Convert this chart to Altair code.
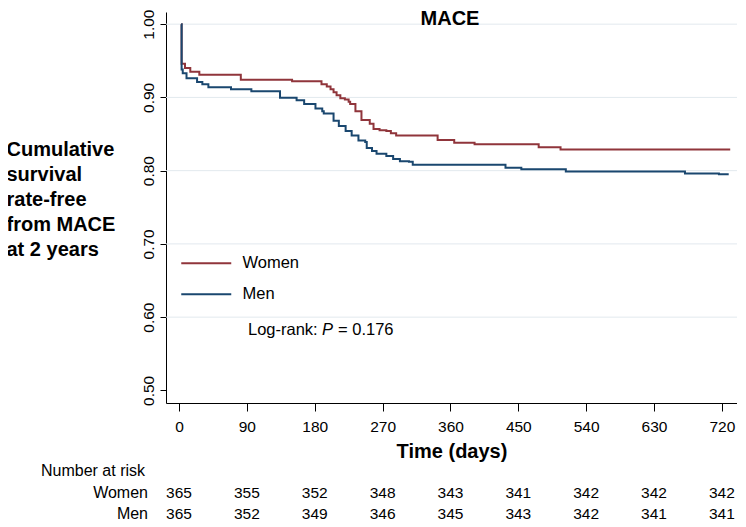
import altair as alt
import pandas as pd

# ---- data ----
groups = ["Women", "Men"]
colors = ["#90353b", "#1a476f"]

women_days = [3, 3.5, 8, 15, 27, 82, 150, 189, 196, 201, 205, 209, 214, 220, 225, 227,
              234, 242, 253, 258, 266, 275, 281, 288, 343, 365, 392, 477, 506, 731]
women_surv = [1.0, 0.946, 0.940, 0.935, 0.931, 0.924, 0.922, 0.918, 0.915, 0.911, 0.907,
              0.903, 0.899, 0.897, 0.894, 0.891, 0.881, 0.869, 0.864, 0.857, 0.855, 0.854,
              0.851, 0.848, 0.842, 0.838, 0.836, 0.832, 0.829, 0.829]

men_days = [3, 3.5, 5, 10, 24, 31, 39, 69, 96, 134, 156, 166, 181, 190, 192, 205, 212, 221,
            229, 238, 247, 249, 256, 262, 275, 284, 293, 305, 310, 433, 454, 513, 671, 716, 729]
men_surv = [1.0, 0.938, 0.933, 0.926, 0.921, 0.918, 0.914, 0.911, 0.9085, 0.8995, 0.896,
            0.891, 0.885, 0.881, 0.878, 0.868, 0.861, 0.854, 0.848, 0.841, 0.839, 0.831,
            0.827, 0.823, 0.820, 0.816, 0.813, 0.812, 0.808, 0.804, 0.802, 0.799, 0.796,
            0.795, 0.795]

risk_days = [0, 90, 180, 270, 360, 450, 540, 630, 720]
women_risk = [365, 355, 352, 348, 343, 341, 342, 342, 342]
men_risk = [365, 352, 349, 346, 345, 343, 342, 341, 341]

y_ticks = [0.5, 0.6, 0.7, 0.8, 0.9, 1.0]
grid_values = [0.6, 0.7, 0.8, 0.9, 1.0]

y_title = ["Cumulative", "survival", "rate-free", "from MACE", "at 2 years"]
chart_title = "MACE"
x_title = "Time (days)"
logrank_parts = ["Log-rank:", "P", "= 0.176"]

# ---- tables ----
curve_df = pd.DataFrame({
    "day": women_days + men_days,
    "surv": women_surv + men_surv,
    "group": ["Women"] * len(women_days) + ["Men"] * len(men_days),
})
risk_w = pd.DataFrame({"day": risk_days, "n": women_risk})
risk_m = pd.DataFrame({"day": risk_days, "n": men_risk})
grid_df = pd.DataFrame({"v": grid_values})

FONT = "Liberation Sans"
W, H = 571, 391
PB = 118

xscale = alt.Scale(domain=[-17.2, 740], nice=False, zero=False)
yscale = alt.Scale(domain=[0.4828, 1.0166], nice=False, zero=False)

x_axis = alt.Axis(values=risk_days, title=x_title, grid=False,
                  domainColor="black", domainWidth=1, tickColor="black",
                  tickSize=8, tickWidth=1, labelFont=FONT, labelFontSize=15.5,
                  labelColor="black", labelPadding=8, labelFlush=False,
                  labelOverlap=False,
                  titleFont=FONT, titleFontSize=20, titleFontWeight="bold",
                  titleColor="black", titleY=48, titleBaseline="middle")
y_axis = alt.Axis(values=y_ticks, format=".2f", title=y_title, grid=False,
                  domainColor="black", domainWidth=1, tickColor="black",
                  tickSize=6, tickWidth=1, labelFont=FONT, labelFontSize=15.5,
                  labelColor="black", labelAngle=270, labelAlign="center",
                  labelBaseline="bottom", labelPadding=4, labelOverlap=False,
                  titleFont=FONT, titleFontSize=20, titleFontWeight="bold",
                  titleColor="black", titleAngle=0, titleAlign="left",
                  titleBaseline="top", titleX=-160, titleY=127,
                  titleLineHeight=25)

grid = alt.Chart(grid_df).mark_rule(color="#e2e9ee", strokeWidth=1).encode(
    y=alt.Y("v:Q", scale=yscale, axis=y_axis)
)

curves = alt.Chart(curve_df).mark_line(interpolate="step-after", strokeWidth=2).encode(
    x=alt.X("day:Q", scale=xscale, axis=x_axis),
    y=alt.Y("surv:Q", scale=yscale, axis=y_axis),
    color=alt.Color("group:N", scale=alt.Scale(domain=groups, range=colors),
                    legend=alt.Legend(orient="none", legendX=12, legendY=243, title=None,
                                      symbolType="M-5,0L5,0", symbolSize=100,
                                      symbolStrokeWidth=2, symbolOffset=20,
                                      labelOffset=28, labelFont=FONT, labelFontSize=16.5,
                                      labelColor="black", rowPadding=14, padding=0)),
)

title_layer = alt.Chart(pd.DataFrame({"t": [chart_title]})).mark_text(
    font=FONT, fontSize=20, fontWeight="bold", align="center", baseline="middle",
    color="black"
).encode(x=alt.value(284), y=alt.value(7), text="t:N")

lr1 = alt.Chart(pd.DataFrame({"t": [logrank_parts[0]]})).mark_text(
    font=FONT, fontSize=16.5, align="left", baseline="middle", color="black"
).encode(x=alt.value(82), y=alt.value(318), text="t:N")
lr2 = alt.Chart(pd.DataFrame({"t": [logrank_parts[1]]})).mark_text(
    font=FONT, fontSize=16.5, fontStyle="italic", align="left", baseline="middle",
    color="black"
).encode(x=alt.value(156), y=alt.value(318), text="t:N")
lr3 = alt.Chart(pd.DataFrame({"t": [logrank_parts[2]]})).mark_text(
    font=FONT, fontSize=16.5, align="left", baseline="middle", color="black"
).encode(x=alt.value(172), y=alt.value(318), text="t:N")

row_w = alt.Chart(risk_w).mark_text(
    font=FONT, fontSize=15.5, align="center", baseline="middle", color="black"
).encode(x=alt.X("day:Q", scale=xscale, axis=x_axis), y=alt.value(H + 90), text="n:Q")
row_m = alt.Chart(risk_m).mark_text(
    font=FONT, fontSize=15.5, align="center", baseline="middle", color="black"
).encode(x=alt.X("day:Q", scale=xscale, axis=x_axis), y=alt.value(H + 111), text="n:Q")

lab_head = alt.Chart(pd.DataFrame({"t": ["Number at risk"]})).mark_text(
    font=FONT, fontSize=16, align="left", baseline="middle", color="black"
).encode(x=alt.value(-125), y=alt.value(H + 68), text="t:N")
lab_w = alt.Chart(pd.DataFrame({"t": ["Women"]})).mark_text(
    font=FONT, fontSize=16, align="right", baseline="middle", color="black"
).encode(x=alt.value(-18), y=alt.value(H + 90), text="t:N")
lab_m = alt.Chart(pd.DataFrame({"t": ["Men"]})).mark_text(
    font=FONT, fontSize=16, align="right", baseline="middle", color="black"
).encode(x=alt.value(-18), y=alt.value(H + 111), text="t:N")

chart = alt.layer(
    grid, curves, title_layer, lr1, lr2, lr3, row_w, row_m, lab_head, lab_w, lab_m
).properties(
    width=W, height=H,
    padding={"left": 158, "top": 4, "right": 0, "bottom": PB},
    autosize=alt.AutoSizeParams(type="none"),
    background="white",
).configure_view(stroke=None)

chart.save("out.html", embed_options={"renderer": "svg", "actions": False})
